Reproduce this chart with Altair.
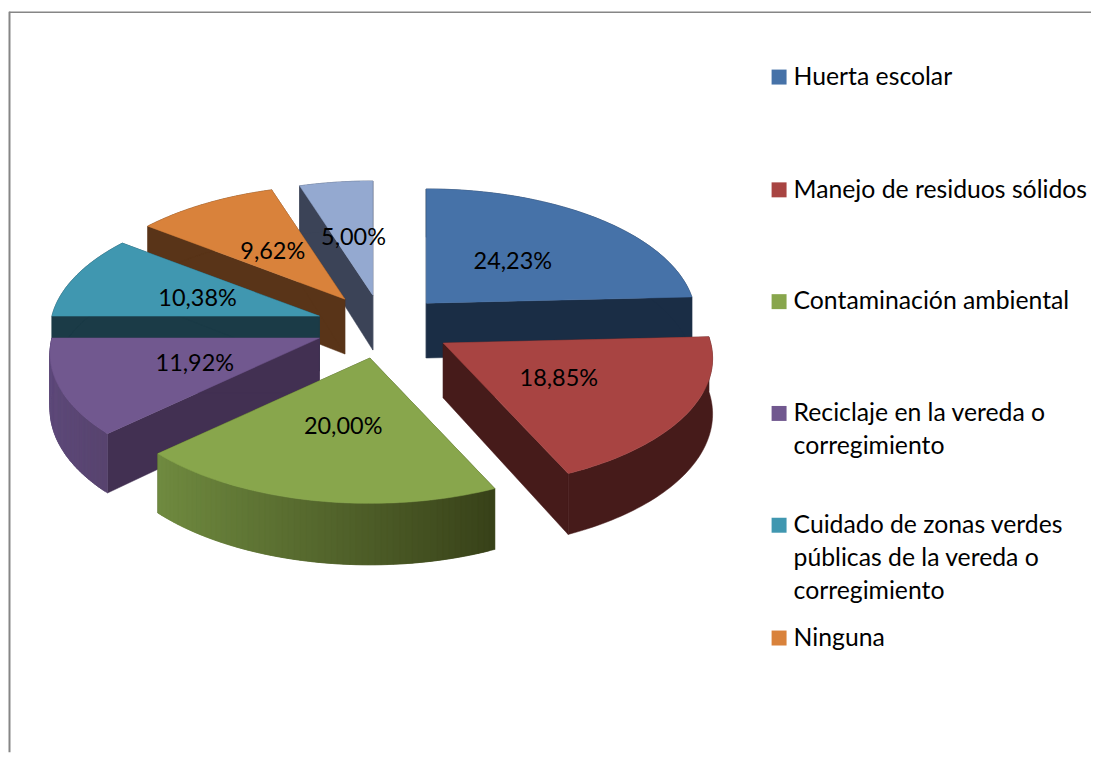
import math
import altair as alt

# ---- values ----
categories = ["Huerta escolar", "Manejo de residuos sólidos", "Contaminación ambiental",
              "Reciclaje en la vereda o corregimiento",
              "Cuidado de zonas verdes públicas de la vereda o corregimiento",
              "Ninguna", "Otra"]
values = [24.23, 18.85, 20.00, 11.92, 10.38, 9.62, 5.00]
legend_lines = [["Huerta escolar"], ["Manejo de residuos sólidos"], ["Contaminación ambiental"],
                ["Reciclaje en la vereda o", "corregimiento"],
                ["Cuidado de zonas verdes", "públicas de la vereda o", "corregimiento"],
                ["Ninguna"]]

# ---- styles ----
top_colors = ["#4672a8", "#a84442", "#88a64c", "#71588f", "#4097b0", "#d9823b", "#94a9d0"]
cut_colors = ["#1a2d45", "#461b1a", "#384219", "#423052", "#1b3b47", "#593418", "#3b4357"]
wall_left = ["#1a2d45", "#461b1a", "#708b40", "#5f4a7b", "#1b3b47", "#593418", "#3b4357"]
wall_right = ["#1a2d45", "#461b1a", "#384219", "#58446f", "#1b3b47", "#593418", "#3b4357"]

# ---- layout (page pixels of the 3-D pie) ----
W, H, M = 1084, 745, 8
apex = [(426, 303), (443, 343), (369.5, 358), (319, 338), (319, 316), (344.5, 299), (372.5, 295)]
paint_order = [6, 5, 4, 3, 0, 1, 2]
RX, RY, PERSP, DEPTH = 268, 130, 0.12, 55
LABEL_T = 0.49
LABEL_DY = 2.5
legend_rows = [76, 189, 301, 413, 525, 638]
LEGEND_DY = 1.2
LINE_H = 33


def project(k, theta, t=1.0, z=0.0):
    u, v = math.sin(theta) * t, -math.cos(theta) * t
    f = 1 + PERSP * v
    return (apex[k][0] + RX * u * f - M, apex[k][1] + RY * v * f + z * DEPTH * f - M)


def hex2rgb(c):
    return [int(c[i:i + 2], 16) for i in (1, 3, 5)]


def mix(a, b, t):
    ra, rb = hex2rgb(a), hex2rgb(b)
    return "#%02x%02x%02x" % tuple(round(x + (y - x) * t) for x, y in zip(ra, rb))


def poly(points, fill):
    pts = [list(p) for p in points]
    pts.append(pts[0])
    return {"type": "Feature", "properties": {"fill": fill},
            "geometry": {"type": "Polygon", "coordinates": [pts]}}


# angular bounds of every slice, clockwise from the top
bounds, acc = [], 0.0
for val in values:
    a0 = acc / sum(values) * 2 * math.pi
    acc += val
    bounds.append((a0, acc / sum(values) * 2 * math.pi))

features = []
N = 60
for k in paint_order:
    a0, a1 = bounds[k]
    angs = [a0 + (a1 - a0) * i / N for i in range(N + 1)]
    for a in (a0, a1):  # the two cut faces
        features.append(poly([project(k, a, 0), project(k, a), project(k, a, 1, 1), project(k, a, 0, 1)],
                             cut_colors[k]))
    lo = min(math.sin(x) for x in (a0, a1))
    hi = max(math.sin(x) for x in (a0, a1))
    if wall_left[k] == wall_right[k]:
        features.append(poly([project(k, a) for a in angs] + [project(k, a, 1, 1) for a in reversed(angs)],
                             wall_left[k]))
    else:
        for i in range(N):  # outer wall in overlapping shaded strips
            j = min(i + 2, N)
            s = (math.sin(angs[i]) - lo) / max(hi - lo, 1e-6)
            col = mix(wall_left[k], wall_right[k], min(max(s, 0), 1))
            features.append(poly([project(k, angs[i]), project(k, angs[j]),
                                  project(k, angs[j], 1, 1), project(k, angs[i], 1, 1)], col))
    features.append(poly([project(k, 0, 0)] + [project(k, a) for a in angs], top_colors[k]))

px = alt.Scale(domain=[0, W], range=[0, W])
py = alt.Scale(domain=[0, H], range=[0, H])
X = lambda f="x": alt.X(f"{f}:Q", scale=px, axis=None)
Y = lambda f="y": alt.Y(f"{f}:Q", scale=py, axis=None)

pie = alt.Chart(alt.Data(values=features)).mark_geoshape(strokeWidth=0.5).encode(
    fill=alt.Fill("properties.fill:N", scale=None),
    stroke=alt.Stroke("properties.fill:N", scale=None),
).project(type="identity", scale=1, translate=[0, 0])

label_rows = []
for k, val in enumerate(values):
    x, y = project(k, sum(bounds[k]) / 2, LABEL_T)
    label_rows.append({"x": x, "y": y + LABEL_DY, "t": f"{val:.2f}%".replace(".", ",")})
labels = alt.Chart(alt.Data(values=label_rows)).mark_text(
    font="Lato", fontSize=23.5, color="#000000", baseline="middle", align="center"
).encode(x=X(), y=Y(), text="t:N")

sq_rows = [{"x": 779.5 - M, "y": legend_rows[i] + 0.5 - M, "c": top_colors[i]} for i in range(len(legend_rows))]
squares = alt.Chart(alt.Data(values=sq_rows)).mark_square(size=225, opacity=1, strokeWidth=0).encode(
    x=X(), y=Y(), fill=alt.Fill("c:N", scale=None))

line_rows = []
for i, lines in enumerate(legend_lines):
    for j, line in enumerate(lines):
        line_rows.append({"x": 794 - M, "y": legend_rows[i] + LEGEND_DY + j * LINE_H - M, "t": line})
legend_text = alt.Chart(alt.Data(values=line_rows)).mark_text(
    font="Lato", fontSize=24.8, color="#000000", baseline="middle", align="left"
).encode(x=X(), y=Y(), text="t:N")

frame_top = alt.Chart(alt.Data(values=[{"x": 0, "x2": W, "y": 3.5}])).mark_rule(
    color="#868686", strokeWidth=1.5).encode(x=X(), x2="x2:Q", y=Y())
frame_left = alt.Chart(alt.Data(values=[{"x": 0.5, "y": 3, "y2": H}])).mark_rule(
    color="#868686", strokeWidth=2).encode(x=X(), y=Y(), y2="y2:Q")

chart = alt.layer(
    pie, frame_top, frame_left, labels, squares, legend_text
).properties(width=W, height=H, padding=0, background="#ffffff").configure_view(stroke=None)

chart.save("out.html", embed_options={"renderer": "svg", "actions": False})
